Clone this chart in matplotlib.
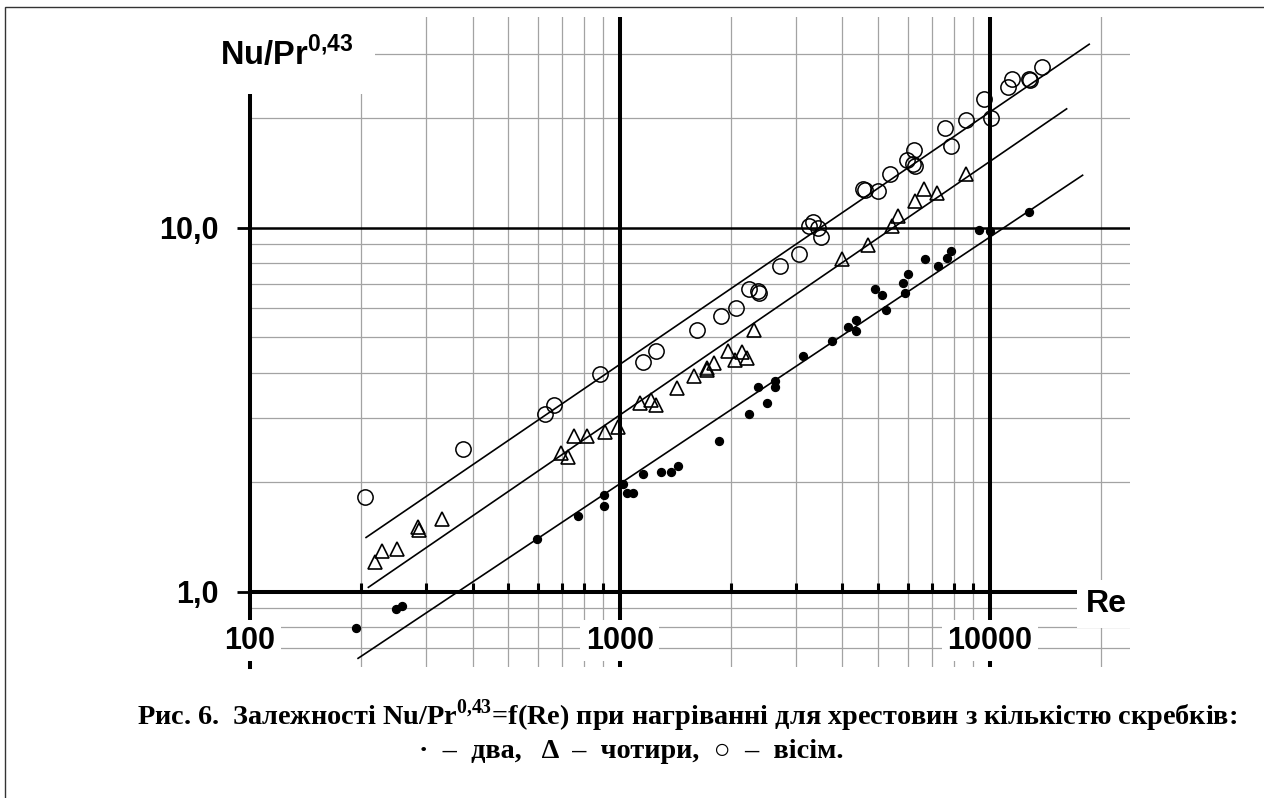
import matplotlib
matplotlib.use("Agg")
import matplotlib.pyplot as plt
from matplotlib.ticker import FixedLocator, FixedFormatter, NullFormatter, NullLocator
from matplotlib.patches import Rectangle

plt.rcParams["font.family"] = ["Liberation Sans", "DejaVu Sans"]
plt.rcParams["font.weight"] = "bold"
plt.rcParams["mathtext.fontset"] = "custom"
plt.rcParams["mathtext.bf"] = "Liberation Serif:bold"
plt.rcParams["mathtext.sf"] = "Liberation Sans:bold"
plt.rcParams["mathtext.rm"] = "Liberation Serif:bold"

# ---- measured points: Re and Nu/Pr^0.43 ----
# two scrapers (dots)
re_two = [194, 248, 258, 596, 769, 907, 907, 1022, 1048, 1084, 1157, 1289,
          1373, 1434, 1854, 2240, 2369, 2495, 2629, 2629, 3135, 3740, 4147,
          4346, 4346, 4897, 5107, 5246, 5844, 5905, 6030, 6687, 7265, 7652,
          7865, 9378, 10020, 12800]
nu_two = [0.793, 0.895, 0.915, 1.396, 1.614, 1.844, 1.723, 1.97, 1.87, 1.87,
          2.10, 2.13, 2.13, 2.21, 2.59, 3.08, 3.64, 3.29, 3.80, 3.66, 4.45,
          4.88, 5.33, 5.58, 5.21, 6.79, 6.53, 5.94, 7.06, 6.60, 7.45, 8.19,
          7.85, 8.27, 8.63, 9.86, 9.81, 11.04]

# four scrapers (triangles)
re_four = [218, 227, 249, 285, 287, 331, 693, 726, 754, 814, 912, 991, 1134,
           1212, 1252, 1431, 1587, 1718, 1724, 1797, 1965, 2049, 2136, 2203,
           2310, 3982, 4680, 5445, 5664, 6284, 6645, 7211, 8617]
nu_four = [1.209, 1.294, 1.31, 1.509, 1.477, 1.58, 2.40, 2.34, 2.67, 2.68,
           2.75, 2.84, 3.29, 3.36, 3.26, 3.62, 3.91, 4.06, 4.11, 4.24, 4.59,
           4.33, 4.55, 4.39, 5.24, 8.19, 8.97, 10.1, 10.77, 11.87, 12.75,
           12.48, 14.05]

# eight scrapers (circles)
re_eight = [205, 376, 629, 664, 884, 1153, 1253, 1621, 1878, 2062, 2236,
            2369, 2380, 2712, 3058, 3254, 3337, 3443, 3494, 4556, 4600, 4982,
            5380, 5991, 6245, 6220, 6300, 7574, 7865, 8636, 9660, 10070,
            11240, 11520, 12800, 12900, 13890]
nu_eight = [1.824, 2.46, 3.08, 3.25, 3.96, 4.28, 4.58, 5.23, 5.72, 6.03,
            6.79, 6.71, 6.63, 7.85, 8.47, 10.1, 10.39, 9.96, 9.41, 12.75,
            12.65, 12.6, 14.02, 15.35, 16.35, 14.95, 14.8, 18.76, 16.8, 19.77,
            22.5, 20.05, 24.3, 25.6, 25.6, 25.5, 27.7]

# correlation lines (end points)
fit_re_two, fit_nu_two = [196, 17850], [0.656, 13.93]
fit_re_four, fit_nu_four = [209, 16160], [1.028, 21.2]
fit_re_eight, fit_nu_eight = [206, 18600], [1.409, 31.9]

# axes ticks and grid
x_major = [100, 1000, 10000]
x_labels = ["100", "1000", "10000"]
x_grid = [200, 300, 400, 500, 600, 700, 800, 900,
          2000, 3000, 4000, 5000, 6000, 7000, 8000, 9000, 20000]
y_major = [1, 10]
y_labels = ["1,0", "10,0"]
y_grid = [0.7, 0.8, 0.9, 2, 3, 4, 5, 6, 7, 8, 9, 20, 30]

W, H = 1264, 798
fig = plt.figure(figsize=(W / 100, H / 100), dpi=100)
ax = fig.add_axes([250 / W, (H - 667) / H, 880 / W, 650 / H])
ax.set_xscale("log")
ax.set_yscale("log")
ax.set_xlim(100, 23980)
ax.set_ylim(0.621, 37.9)
ax.set_axisbelow(False)
ax.patch.set_visible(False)

grid_kw = dict(color="#a3a3a3", lw=0.9, zorder=0.5)
for v in x_grid:
    ax.axvline(v, **grid_kw)
for v in y_grid:
    ax.axhline(v, **grid_kw)
for v in x_major[1:]:
    ax.axvline(v, color="black", lw=2.9, zorder=0.6)
ax.axhline(y_major[1], color="black", lw=1.8, zorder=0.6)

for s in ("top", "right"):
    ax.spines[s].set_visible(False)
ax.spines["left"].set_linewidth(2.9)
ax.spines["bottom"].set_position(("data", y_major[0]))
ax.spines["bottom"].set_linewidth(2.9)

ax.xaxis.set_major_locator(FixedLocator(x_major))
ax.xaxis.set_major_formatter(FixedFormatter(x_labels))
ax.xaxis.set_minor_locator(FixedLocator(x_grid))
ax.xaxis.set_minor_formatter(NullFormatter())
ax.tick_params(axis="x", which="major", length=0, pad=24.5, labelsize=22)
ax.tick_params(axis="x", which="minor", direction="in", length=6.5, width=2.2)

ax.yaxis.set_major_locator(FixedLocator(y_major))
ax.yaxis.set_major_formatter(FixedFormatter(y_labels))
ax.yaxis.set_minor_locator(NullLocator())
ax.tick_params(axis="y", which="major", direction="out", length=9.4,
               width=2.0, pad=13.5, labelsize=22)

for t in ax.xaxis.get_major_ticks():
    t.label1.set_fontweight("bold")
    t.label1.set_bbox(dict(facecolor="white", edgecolor="none", pad=4))
for t in ax.yaxis.get_major_ticks():
    t.label1.set_fontweight("bold")

# correlation lines
line_kw = dict(color="black", lw=1.2, zorder=3)
ax.plot(fit_re_two, fit_nu_two, **line_kw)
ax.plot(fit_re_four, fit_nu_four, **line_kw)
ax.plot(fit_re_eight, fit_nu_eight, **line_kw)

# measured points
ax.plot(re_two, nu_two, ls="none", marker="o", ms=5.7, mfc="black",
        mec="black", zorder=4)
ax.plot(re_four, nu_four, ls="none", marker="^", ms=10, mfc="none",
        mec="black", mew=1.2, zorder=4)
ax.plot(re_eight, nu_eight, ls="none", marker="o", ms=11, mfc="none",
        mec="black", mew=1.1, zorder=4)

# axis titles
fig.text(220 / W, 1 - 65 / H, r"Nu/Pr$^{\mathsf{0{,}43}}$", fontsize=23.5,
         fontweight="bold", family="Liberation Sans", ha="left", va="baseline",
         bbox=dict(facecolor="white", edgecolor="none", pad=16))
fig.text(1086 / W, 1 - 612 / H, "Re", fontsize=23, fontweight="bold",
         family="Liberation Sans", ha="left", va="baseline",
         bbox=dict(facecolor="white", edgecolor="none", pad=6.5))

# caption
fig.text(137 / W, 1 - 725 / H,
         r"Рис. 6.  Залежності Nu/Pr$^{\mathbf{0{,}43}}$=f(Re) при нагріванні для хрестовин з кількістю скребків:",
         fontsize=20.3, fontweight="bold", family="Liberation Serif",
         ha="left", va="baseline")
fig.text(631 / W, 1 - 758 / H, "·  –  два,   Δ  –  чотири,  ○  –  вісім.",
         fontsize=20.3, fontweight="bold",
         family=["Liberation Serif", "DejaVu Serif"],
         ha="center", va="baseline")

# frame around the figure
fig.add_artist(Rectangle((5 / W, -0.1), 2, (1 - 7 / H) + 0.1,
                         transform=fig.transFigure, fill=False,
                         edgecolor="#333333", lw=1.0))

fig.savefig("out.png", dpi=100)
